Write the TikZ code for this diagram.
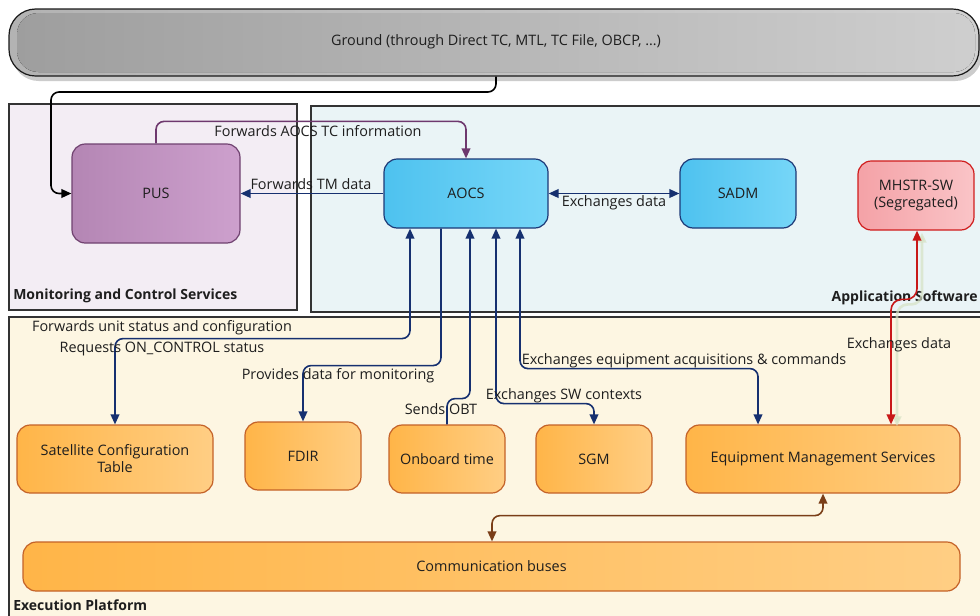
\documentclass[tikz,border=0pt]{standalone}
\usepackage{fontspec}
\setmainfont{Open Sans}
\usetikzlibrary{calc,arrows.meta}
\definecolor{navy}{RGB}{22,48,112}
\definecolor{purpline}{RGB}{110,56,110}
\definecolor{redline}{RGB}{200,24,24}
\definecolor{brownline}{RGB}{122,62,24}
\definecolor{orborder}{RGB}{196,98,40}
\definecolor{orL}{RGB}{255,181,72}
\definecolor{orR}{RGB}{255,206,132}
\definecolor{blL}{RGB}{78,194,239}
\definecolor{blR}{RGB}{118,214,248}
\definecolor{blborder}{RGB}{28,56,118}
\definecolor{puL}{RGB}{180,134,180}
\definecolor{puR}{RGB}{205,160,205}
\definecolor{puborder}{RGB}{112,66,112}
\definecolor{piL}{RGB}{244,162,167}
\definecolor{piR}{RGB}{250,196,199}
\definecolor{piborder}{RGB}{208,28,28}
\definecolor{mcsfill}{RGB}{243,237,244}
\definecolor{appfill}{RGB}{234,244,246}
\definecolor{exefill}{RGB}{253,246,226}
\definecolor{txt}{RGB}{30,30,30}
\definecolor{shadowgreen}{RGB}{214,226,196}
\tikzset{
  grp/.style={draw=black!80, line width=0.9pt},
  grplabel/.style={font=\fontsize{10.5}{12}\selectfont\bfseries, text=txt, inner sep=0pt},
  lbl/.style={text=txt, inner sep=0pt},
  blk/.style={rounded corners=10pt, line width=0.9pt, text=txt, align=center, inner sep=2pt},
  orbox/.style={blk, draw=orborder, left color=orL, right color=orR},
  blbox/.style={blk, draw=blborder, left color=blL, right color=blR},
  pubox/.style={blk, draw=puborder, left color=puL, right color=puR},
  pibox/.style={blk, draw=piborder, left color=piL, right color=piR},
  tip/.style={-{Triangle[length=7.5pt,width=6.5pt]}},
  dtip/.style={{Triangle[length=7.5pt,width=6.5pt]}-{Triangle[length=7.5pt,width=6.5pt]}},
  navl/.style={draw=navy, line width=1.2pt, rounded corners=6pt},
}
\begin{document}
\begin{tikzpicture}[x=0.75pt,y=-0.75pt, font=\fontsize{10.8}{12.8}\selectfont]
\useasboundingbox (0,0) rectangle (980,615);
\clip (0,0) rectangle (980,615);
\fill[white] (0,0) rectangle (980,615);

% group areas
\draw[grp, fill=mcsfill] (9,104) rectangle (297,310);
\draw[grp, fill=appfill] (311,106) rectangle (990,312);
\draw[grp, fill=exefill] (9,317) rectangle (990,625);
\node[grplabel, anchor=south west] (mcsl) at (13,303) {Monitoring and Control Services};
\node[grplabel, anchor=south east] (appl) at (978,305) {Application Software};
\node[grplabel, anchor=south west] (exel) at (13,611) {Execution Platform};

% ground bar
\fill[black!20, rounded corners=20pt] (12,13) rectangle (982,81);
\node[draw=black!90, line width=0.9pt, rounded corners=20pt, left color=black!30, right color=black!18,
      minimum width=970*0.75pt, minimum height=67*0.75pt, inner sep=0pt] (Ground) at (494,42.5) {};
\fill[rounded corners=16pt, left color=black!38, right color=black!19] (17,13) rectangle (975,72);
\node[lbl] (gtext) at (496,42) {Ground (through Direct TC, MTL, TC File, OBCP, …)};

% blocks
\node[pubox, minimum width=168*0.75pt, minimum height=99*0.75pt] (PUS) at (156,193.5) {PUS};
\node[blbox, minimum width=164*0.75pt, minimum height=69*0.75pt] (AOCS) at (466,193.5) {AOCS};
\node[blbox, minimum width=116*0.75pt, minimum height=69*0.75pt] (SADM) at (738,193.5) {SADM};
\node[pibox, minimum width=116*0.75pt, minimum height=69*0.75pt] (MHSTR) at (916,195.5) {MHSTR-SW\\(Segregated)};
\node[orbox, minimum width=196*0.75pt, minimum height=68*0.75pt] (SCT) at (115,459) {Satellite Configuration\\Table};
\node[orbox, minimum width=116*0.75pt, minimum height=68*0.75pt] (FDIR) at (303,456) {FDIR};
\node[orbox, minimum width=116*0.75pt, minimum height=68*0.75pt] (OBT) at (447,459) {Onboard time};
\node[orbox, minimum width=116*0.75pt, minimum height=68*0.75pt] (SGM) at (594,459) {SGM};
\node[orbox, minimum width=274*0.75pt, minimum height=68*0.75pt] (EMS) at (823,459) {Equipment Management Services};
\node[orbox, minimum width=937*0.75pt, minimum height=49*0.75pt] (CB) at (491.5,566.5) {Communication buses};

% connectors
\draw[black, line width=1.2pt, rounded corners=6pt, tip] ($(Ground.south)+(2,0)$) |- (51,92) |- (PUS.west);
\draw[purpline, line width=1.2pt, rounded corners=6pt, tip] (PUS.north) -- ++(0,-22) -| (AOCS.north);
\node[lbl] (l1) at (318,131) {Forwards AOCS TC information};
\draw[navl, tip] (AOCS.west) -- (PUS.east);
\node[lbl] (l2) at (311,184) {Forwards TM data};
\draw[navl, dtip] (AOCS.east) -- (SADM.west);
\node[lbl] (l3) at (614,203) {Exchanges data};

\draw[navl, dtip] ($(AOCS.south)+(-56,0)$) -- ++(0,110) -| (SCT.north);
\node[lbl] (l4) at (162,328) {Forwards unit status and configuration};
\node[lbl] (l5) at (162,349) {Requests ON\_CONTROL status};

\draw[navl, tip] ($(AOCS.south)+(-25,0)$) -- ++(0,137) -| (FDIR.north);
\node[lbl] (l6) at (338,376) {Provides data for monitoring};

\draw[navl, tip] (OBT.north) |- ($(AOCS.south)+(4,170)$) -- ($(AOCS.south)+(4,0)$);
\node[lbl] (l7) at (441,409) {Sends OBT};

\draw[navl, dtip] ($(AOCS.south)+(30,0)$) -- ++(0,175) -| (SGM.north);
\node[lbl] (l8) at (564,396) {Exchanges SW contexts};

\draw[navl, dtip] ($(AOCS.south)+(54,0)$) -- ++(0,140) -| ($(EMS.north)+(-65,0)$);
\node[lbl] (l9) at (684,361) {Exchanges equipment acquisitions \& commands};

\draw[shadowgreen, opacity=0.7, line width=2pt, rounded corners=8pt, dtip] ($(MHSTR.south)+(6,2)$) |- ($(EMS.north)+(74,-120)$) -- ($(EMS.north)+(74,2)$);
\draw[redline, line width=1.2pt, rounded corners=8pt, dtip] ($(MHSTR.south)+(1,0)$) |- ($(EMS.north)+(68,-125)$) -- ($(EMS.north)+(68,0)$);
\node[lbl] (l10) at (899,345) {Exchanges data};

\draw[brownline, line width=1.2pt, rounded corners=6pt, dtip] (EMS.south) -- ++(0,22) -| ($(CB.north)+(0.5,0)$);
\end{tikzpicture}
\end{document}
